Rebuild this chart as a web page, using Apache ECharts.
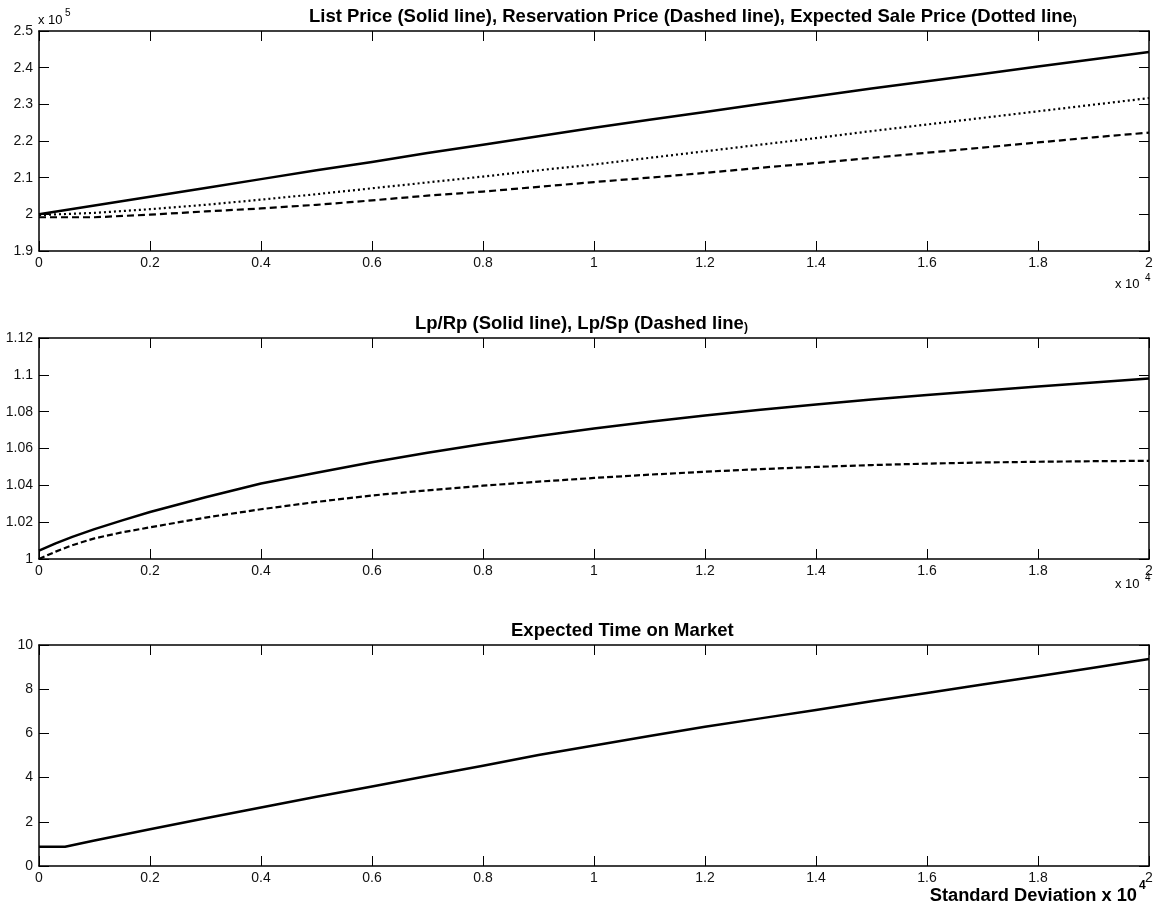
<!DOCTYPE html>
<html>
<head>
<meta charset="utf-8">
<script src="https://cdn.jsdelivr.net/npm/echarts@6/dist/echarts.min.js"></script>
<style>
html,body{margin:0;padding:0;background:#fff;}
#chart{width:1163px;height:915px;}
</style>
</head>
<body>
<div id="chart"></div>
<script>
// ---------- DATA ----------
// Panel 1: prices vs standard deviation
const stdDevA = [0,1000,2000,3000,4000,5000,6000,7000,8000,9000,10000,11000,12000,13000,14000,15000,16000,17000,18000,19000,20000];
const listPrice = [200000,202400,204800,207200,209600,212000,214300,216700,219000,221300,223600,225800,227900,230100,232200,234300,236300,238300,240300,242300,244300];
const reservationPrice = [199200,199200,199900,200800,201600,202600,203800,205100,206200,207500,208800,210000,211300,212700,214000,215400,216800,218200,219600,221000,222300];
const expectedSalePrice = [199800,200400,201400,202600,204000,205500,207100,208700,210300,212000,213600,215400,217200,219000,220800,222700,224500,226300,228100,229900,231700];

// Panel 2: ratios
const stdDevB = [0,300,600,1000,1500,2000,3000,4000,5000,6000,7000,8000,9000,10000,11000,12000,13000,14000,15000,16000,17000,18000,19000,20000];
const lpRp = [1.0045,1.0085,1.012,1.0162,1.021,1.0255,1.0335,1.041,1.0468,1.0525,1.0577,1.0625,1.0668,1.0708,1.0745,1.0779,1.081,1.0839,1.0866,1.0891,1.0914,1.0936,1.0958,1.098];
const lpSp = [1.000,1.004,1.0075,1.0112,1.0145,1.0172,1.0225,1.027,1.031,1.0345,1.0373,1.0398,1.042,1.044,1.0458,1.0474,1.0488,1.05,1.051,1.0518,1.0524,1.0528,1.0531,1.0533];

// Panel 3: expected time on market
const stdDevC = [0,470,1000,2000,3000,4000,5000,6000,7000,8000,9000,10000,11000,12000,13000,14000,15000,16000,17000,18000,19000,20000];
const timeOnMarket = [0.87,0.87,1.15,1.66,2.16,2.65,3.13,3.60,4.07,4.54,5.02,5.45,5.88,6.30,6.68,7.06,7.45,7.83,8.21,8.59,8.97,9.37];

const titles = [
  'List Price (Solid line), Reservation Price (Dashed line), Expected Sale Price (Dotted line',
  'Lp/Rp (Solid line), Lp/Sp (Dashed line',
  'Expected Time on Market'
];
const xLabel = 'Standard Deviation x 10';

// ---------- CHART ----------
const FONT = '"Liberation Sans", Arial, Helvetica, sans-serif';
const zip = (xs, ys) => xs.map((x, i) => [x, ys[i]]);
const num = v => String(+v.toFixed(4));

const grids = [
  {left: 39, top: 31, width: 1110, height: 220},
  {left: 39, top: 338, width: 1110, height: 221},
  {left: 39, top: 645, width: 1110, height: 221}
];
const yScales = [
  {min: 190000, max: 250000, interval: 10000, fmt: v => num(v / 1e5)},
  {min: 1.0, max: 1.12, interval: 0.02, fmt: v => num(v)},
  {min: 0, max: 10, interval: 2, fmt: v => num(v)}
];

const axisLine = {show: true, onZero: false, lineStyle: {color: '#000', width: 1.5}};
const axisTick = {show: true, inside: true, length: 10, lineStyle: {color: '#000', width: 1}};
const labelStyle = {color: '#111', fontSize: 14, fontFamily: FONT};

const xAxis = [], yAxis = [];
grids.forEach((g, i) => {
  ['bottom', 'top'].forEach(pos => {
    xAxis.push({
      type: 'value', gridIndex: i, position: pos, min: 0, max: 20000, interval: 2000,
      axisLine, axisTick, splitLine: {show: false},
      axisLabel: pos === 'bottom'
        ? Object.assign({show: true, margin: 5, formatter: v => num(v / 1e4)}, labelStyle)
        : {show: false}
    });
  });
  ['left', 'right'].forEach(pos => {
    yAxis.push({
      type: 'value', gridIndex: i, position: pos,
      min: yScales[i].min, max: yScales[i].max, interval: yScales[i].interval,
      axisLine, axisTick, splitLine: {show: false},
      axisLabel: pos === 'left'
        ? Object.assign({show: true, margin: 6, formatter: yScales[i].fmt}, labelStyle)
        : {show: false}
    });
  });
});

function line(data, gi, type, width) {
  return {
    type: 'line', data, xAxisIndex: gi * 2, yAxisIndex: gi * 2,
    showSymbol: false, symbol: 'none', smooth: false,
    lineStyle: {color: '#000', width: width, type: type, join: 'round', cap: 'butt'},
    silent: true, animation: false, z: 3
  };
}

const series = [
  line(zip(stdDevA, listPrice), 0, 'solid', 2.5),
  line(zip(stdDevA, reservationPrice), 0, [7, 4], 2.2),
  line(zip(stdDevA, expectedSalePrice), 0, [2, 3], 2.2),
  line(zip(stdDevB, lpRp), 1, 'solid', 2.5),
  line(zip(stdDevB, lpSp), 1, [6, 3], 2.2),
  line(zip(stdDevC, timeOnMarket), 2, 'solid', 2.5)
];

function txt(text, x, y, size, weight, align) {
  return {
    type: 'text', x, y, silent: true,
    style: {
      text, fill: '#000', font: (weight || 'normal') + ' ' + size + 'px ' + FONT,
      align: align || 'left', verticalAlign: 'middle',
      textAlign: align || 'left', textVerticalAlign: 'middle'
    }
  };
}
function titleText(text, x, y, closeParen) {
  return {
    type: 'text', x, y, silent: true,
    style: {
      text: '{m|' + text + '}' + (closeParen ? '{s|)}' : ''),
      align: 'left', verticalAlign: 'middle',
      rich: {
        m: {fontSize: 18.5, fontWeight: 'bold', fontFamily: FONT, fill: '#000', color: '#000'},
        s: {fontSize: 12, fontWeight: 'bold', fontFamily: FONT, fill: '#000', color: '#000', verticalAlign: 'bottom'}
      }
    }
  };
}

const graphic = [
  titleText(titles[0], 309, 17, true),
  titleText(titles[1], 415, 324, true),
  titleText(titles[2], 511, 631, false),
  txt('x 10', 38, 20, 13),
  txt('5', 65, 13, 10),
  txt('x 10', 1115, 284, 13),
  txt('4', 1145, 278, 10),
  txt('x 10', 1115, 584, 13),
  txt('4', 1145, 578, 10),
  txt(xLabel, 1137, 896, 18.3, 'bold', 'right'),
  txt('4', 1139, 886, 12, 'bold')
];

const chart = echarts.init(document.getElementById('chart'), null, {renderer: 'canvas'});
chart.setOption({
  backgroundColor: '#fff',
  animation: false,
  grid: grids.map(g => Object.assign({containLabel: false, outerBoundsMode: 'none'}, g)),
  xAxis, yAxis, series, graphic
});
</script>
</body>
</html>
